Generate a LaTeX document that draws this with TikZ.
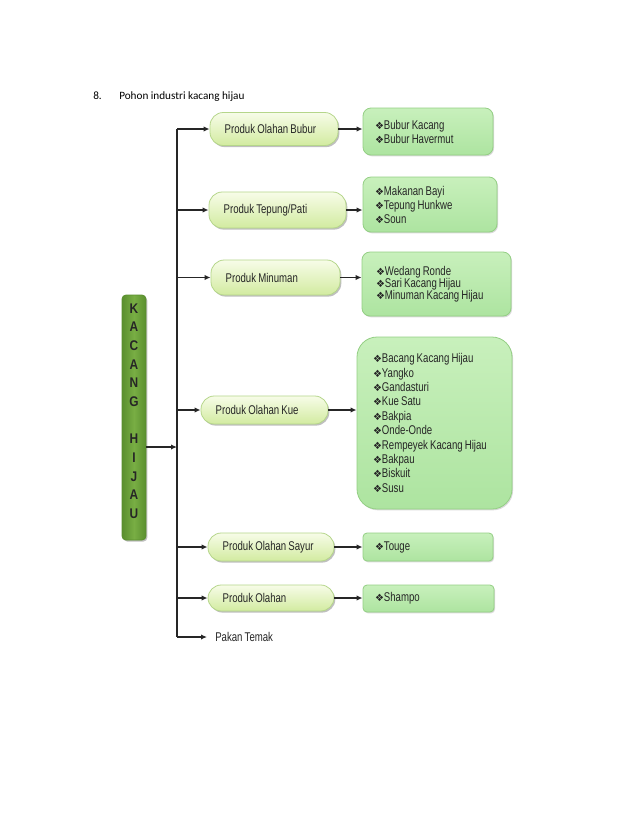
\documentclass[tikz,border=0pt]{standalone}
\usepackage{fontspec}
\usepackage{graphicx}
\setmainfont{Liberation Sans}
\newfontfamily\narrowfont[FakeStretch=0.76]{Liberation Sans}
\newfontfamily\khfont[FakeStretch=0.85]{Liberation Sans}
\newfontfamily\titlefont{Carlito}
\newfontfamily\symfont{DejaVu Sans}
\usetikzlibrary{arrows.meta,shadows,calc}
\definecolor{ovaltop}{HTML}{F7FCE8}
\definecolor{ovalbot}{HTML}{D2EBA0}
\definecolor{ovalborder}{HTML}{B5D68A}
\definecolor{boxtop}{HTML}{C8F0BC}
\definecolor{boxbot}{HTML}{ADE4A0}
\definecolor{boxborder}{HTML}{94CF84}
\definecolor{khedge}{HTML}{5A8F2E}
\definecolor{khmid}{HTML}{78AE44}
\newcommand{\bulletdia}{{\symfont\fontsize{7.5}{7.5}\selectfont ❖}}
\newcommand{\nsel}[1]{\narrowfont\fontsize{9.5}{#1}\selectfont\spaceskip=1.6pt plus 0.3pt minus 0.3pt\relax}
\begin{document}
\begin{tikzpicture}[x=0.75pt,y=-0.75pt,
  conn/.style={line width=0.9pt, draw=black!85},
  arr/.style={conn,-{Latex[length=4.5pt,width=4pt]}},
  txt/.style={font=\nsel{10.5}, text=black!85},
  oval/.style={txt, draw=ovalborder, line width=0.6pt, top color=ovaltop, bottom color=ovalbot,
    rounded corners=10pt, align=flush left, inner xsep=11pt, inner ysep=0pt,
    drop shadow={shadow xshift=1pt, shadow yshift=-1.2pt, opacity=0.25, fill=black}},
  listbox/.style={txt, draw=boxborder, line width=0.6pt, top color=boxtop, bottom color=boxbot,
    rounded corners=6pt, align=flush left, inner xsep=9pt, inner ysep=0pt,
    drop shadow={shadow xshift=0.8pt, shadow yshift=-1pt, opacity=0.15, fill=black}},
  khbox/.style={draw=khedge, line width=0.6pt, left color=khedge, right color=khedge, middle color=khmid,
    rounded corners=3pt, minimum width=18pt, minimum height=183.75pt, inner sep=0pt,
    drop shadow={shadow xshift=1pt, shadow yshift=-1.2pt, opacity=0.25, fill=black}}
]
\useasboundingbox (0,0) rectangle (638,826);
\fill[white] (0,0) rectangle (638,826);

\node[anchor=west, inner sep=0pt, font=\titlefont\fontsize{8.4}{10}\selectfont] (title) at (93,97)
  {\makebox[19.5pt][l]{8.}Pohon industri kacang hijau};

% Kacang hijau box
\node[khbox] (kh) at (134,417.5) {};
\node[align=center, inner sep=0pt, font=\khfont\bfseries\fontsize{10.5}{14}\selectfont, text=black!85] (kht) at (134,411)
  {K\\A\\C\\A\\N\\G\\[14pt]H\\I\\J\\A\\U};

% bus
\coordinate (bt) at (177,129);
\coordinate (bb) at (177,637);
\draw[conn] (bt) -- (bb);

% ovals
\node[oval, text width=74pt, minimum height=24.75pt] (o1) at (274,129) {Produk Olahan Bubur};
\node[oval, text width=80.75pt, minimum height=27pt] (o2) at (277.5,210) {Produk Tepung/Pati};
\node[oval, text width=74.75pt, minimum height=26.25pt] (o3) at (275.5,277.5) {Produk Minuman};
\node[oval, text width=73.25pt, minimum height=21pt] (o4) at (264.5,410) {Produk Olahan Kue};
\node[oval, text width=72.5pt, minimum height=21pt] (o5) at (271,547) {Produk Olahan Sayur};
\node[oval, text width=72.5pt, minimum height=19.5pt] (o6) at (271,598) {Produk Olahan};
\node[txt, anchor=west, inner xsep=6pt] (pk) at (207,637) {Pakan Temak};

% list boxes
\node[listbox, text width=79.5pt, minimum height=35.25pt] (b1) at (428,131.5)
  {\bulletdia Bubur Kacang\\\bulletdia Bubur Havermut};
\node[listbox, text width=82.5pt, minimum height=41.25pt] (b2) at (430,204.5)
  {\bulletdia Makanan Bayi\\\bulletdia Tepung Hunkwe\\\bulletdia Soun};
\node[listbox, text width=90.75pt, minimum height=48pt, inner xsep=10.5pt,
  font=\nsel{9.2}] (b3) at (436.5,284)
  {\bulletdia Wedang Ronde\\\bulletdia Sari Kacang Hijau\\\bulletdia Minuman Kacang Hijau};
\node[listbox, text width=92.25pt, minimum height=129pt, inner xsep=12pt, rounded corners=15pt,
  font=\nsel{10.8}] (b4) at (434.5,423)
  {\bulletdia Bacang Kacang Hijau\\\bulletdia Yangko\\\bulletdia Gandasturi\\\bulletdia Kue Satu\\
   \bulletdia Bakpia\\\bulletdia Onde-Onde\\\bulletdia Rempeyek Kacang Hijau\\\bulletdia Bakpau\\
   \bulletdia Biskuit\\\bulletdia Susu};
\node[listbox, text width=79.5pt, minimum height=21pt, rounded corners=3pt] (b5) at (428,547)
  {\bulletdia Touge};
\node[listbox, text width=80.25pt, minimum height=20.25pt, rounded corners=3pt] (b6) at (428.5,598.5)
  {\bulletdia Shampo};

% arrows
\draw[arr] ($(kh.east)+(0,29.5)$) coordinate (ka) -- (ka -| bt);
\foreach \o in {o1,o2,o3,o4,o5,o6}{
  \draw[arr] (\o.west -| bt) -- (\o.west);
}
\draw[arr] (bb) -- (pk.west);
\draw[arr] (o1.east) -- (o1.east -| b1.west);
\draw[arr] (o2.east) -- (o2.east -| b2.west);
\draw[arr] (o3.east) -- (o3.east -| b3.west);
\draw[arr] (o4.east) -- (o4.east -| b4.west);
\draw[arr] (o5.east) -- (o5.east -| b5.west);
\draw[arr] (o6.east) -- (o6.east -| b6.west);
\end{tikzpicture}
\end{document}
